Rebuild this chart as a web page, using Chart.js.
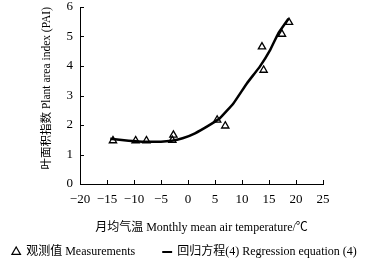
<!DOCTYPE html>
<html><head><meta charset="utf-8">
<script src="https://cdn.jsdelivr.net/npm/chart.js@4.4.0/dist/chart.umd.min.js"></script>
<style>html,body{margin:0;padding:0;background:#fff}#wrap{width:369px;height:261px}</style>
</head><body><div id="wrap"><canvas id="c" width="369" height="261"></canvas></div>
<script>
const measTemp = [-13.9, -9.7, -7.7, -2.9, -2.7, 5.4, 6.9, 13.7, 14.0, 17.4, 18.7];
const measPAI  = [1.47, 1.47, 1.47, 1.48, 1.66, 2.17, 1.97, 4.65, 3.86, 5.08, 5.48];
const fitTemp  = [-14.4, -11, -7, -3, -1, 1.3, 3.8, 5.9, 8.4, 10.9, 13.3, 15.2, 16.7, 18.6];
const fitPAI   = [1.53, 1.47, 1.43, 1.47, 1.55, 1.72, 1.98, 2.23, 2.73, 3.41, 3.98, 4.54, 5.1, 5.6];
const xTicks = [-20, -15, -10, -5, 0, 5, 10, 15, 20, 25];
const yTicks = [0, 1, 2, 3, 4, 5, 6];
const labels = ['观测值 Measurements', '回归方程(4) Regression equation (4)'];

const serif = "'Liberation Serif', 'Noto Sans CJK SC', serif";
const fmt = v => String(v).replace('-', '\u2212');

const inwardTicks = {
  id: 'inwardTicks',
  afterDraw(chart) {
    const ctx = chart.ctx, xs = chart.scales.x, ys = chart.scales.y;
    ctx.save();
    ctx.strokeStyle = '#000'; ctx.lineWidth = 1;
    ctx.beginPath();
    xTicks.forEach(v => { const px = Math.round(xs.getPixelForValue(v)) + 0.5; ctx.moveTo(px, ys.bottom); ctx.lineTo(px, ys.bottom - 4); });
    yTicks.forEach(v => { const py = Math.round(ys.getPixelForValue(v)) + 0.5; ctx.moveTo(xs.left, py); ctx.lineTo(xs.left + 4, py); });
    ctx.stroke();
    ctx.restore();
  }
};

new Chart(document.getElementById('c'), {
  type: 'scatter',
  data: {
    datasets: [
      { label: labels[0], data: measTemp.map((x, i) => ({x, y: measPAI[i]})),
        pointStyle: 'triangle', pointRadius: 4.2, pointBorderWidth: 1.3,
        pointBackgroundColor: 'rgba(255,255,255,0)', pointBorderColor: '#000', showLine: false, order: 1 },
      { label: labels[1], data: fitTemp.map((x, i) => ({x, y: fitPAI[i]})),
        showLine: true, borderColor: '#000', borderWidth: 2.5, pointRadius: 0, tension: 0.1, order: 2 }
    ]
  },
  options: {
    responsive: false, animation: false, devicePixelRatio: 1,
    layout: { padding: { left: 0, right: 0, top: 0, bottom: -7 } },
    plugins: {
      tooltip: { enabled: false },
      legend: {
        position: 'bottom',
        labels: {
          usePointStyle: true, color: '#000', padding: 4, boxWidth: 8, boxHeight: 7,
          font: { family: serif, size: 12 },
          generateLabels: () => [
            { text: labels[0] + '        ', pointStyle: 'triangle', fillStyle: 'rgba(255,255,255,0)', strokeStyle: '#000', lineWidth: 1.2, fontColor: '#000', datasetIndex: 0 },
            { text: labels[1], pointStyle: 'line', fillStyle: '#000', strokeStyle: '#000', lineWidth: 2, fontColor: '#000', datasetIndex: 1 }
          ]
        }
      }
    },
    scales: {
      x: {
        type: 'linear', min: -20, max: 25,
        afterBuildTicks: s => { s.ticks = xTicks.map(v => ({ value: v })); },
        afterFit: s => { s.height = 84 - (s.chart.legend ? s.chart.legend.height : 0); },
        grid: { display: true, drawOnChartArea: false, drawTicks: false },
        border: { display: true, color: '#000', width: 1 },
        ticks: { color: '#000', padding: 8, font: { family: serif, size: 13 }, callback: v => fmt(v), maxRotation: 0 },
        title: { display: true, text: '月均气温 Monthly mean air temperature/℃', color: '#000', font: { family: serif, size: 12 }, padding: { top: 6, bottom: 7 } }
      },
      y: {
        type: 'linear', min: 0, max: 6,
        afterBuildTicks: s => { s.ticks = yTicks.map(v => ({ value: v })); },
        afterFit: s => { s.width = 80; s.paddingTop = 7; s.paddingBottom = 0; },
        grid: { display: true, drawOnChartArea: false, drawTicks: false },
        border: { display: true, color: '#000', width: 1 },
        ticks: { color: '#000', padding: 7, font: { family: serif, size: 13 }, callback: v => fmt(v) },
        title: { display: true, text: '叶面积指数 Plant area index (PAI)', align: 'end', color: '#000', font: { family: serif, size: 11.5 }, padding: { top: 40, bottom: 0 } }
      },
      yRight: {
        type: 'linear', position: 'right', min: 0, max: 6, display: true,
        afterFit: s => { s.width = 46; s.paddingTop = 0; s.paddingBottom = 0; },
        grid: { display: false, drawTicks: false },
        border: { display: false },
        ticks: { display: false }
      }
    }
  },
  plugins: [inwardTicks]
});
</script>
</body></html>
